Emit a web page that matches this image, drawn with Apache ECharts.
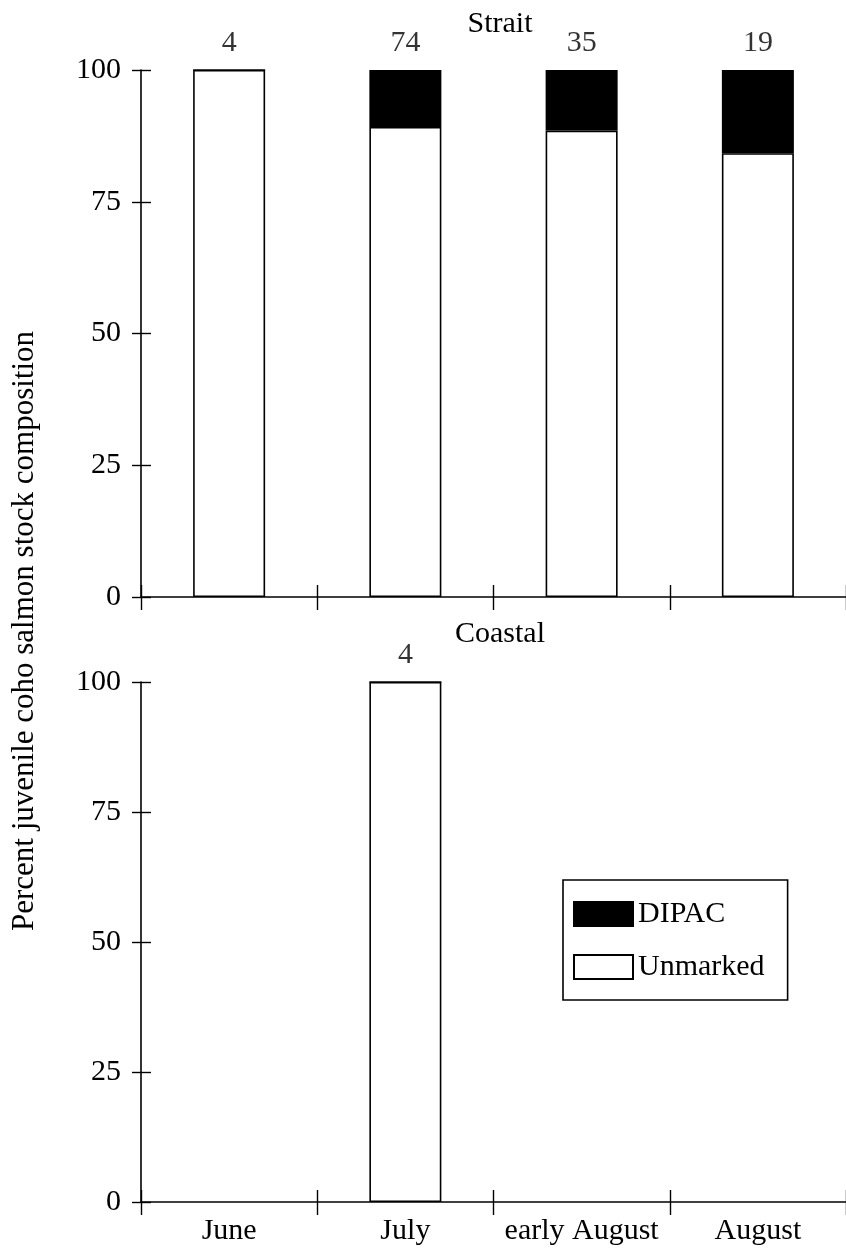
<!DOCTYPE html>
<html>
<head>
<meta charset="utf-8">
<script src="https://cdn.jsdelivr.net/npm/echarts@6/dist/echarts.min.js"></script>
<style>
html,body{margin:0;padding:0;background:#fff;}
#c{width:846px;height:1251px;}
</style>
</head>
<body>
<div id="c"></div>
<script>
// ---- data ----
const categories = ['June', 'July', 'early August', 'August'];
const yTicks = [0, 25, 50, 75, 100];
const straitUnmarked = [100, 89.2, 88.5, 84.2];
const straitDipac = [0, 10.8, 11.5, 15.8];
const straitN = [4, 74, 35, 19];
const coastalUnmarked = [null, 100, null, null];
const coastalDipac = [null, 0, null, null];
const coastalN = [null, 4, null, null];
const panelTitles = ['Strait', 'Coastal'];
const yLabel = 'Percent juvenile coho salmon stock composition';

const FONT = 'Liberation Serif, Times New Roman, serif';
const chart = echarts.init(document.getElementById('c'), null, {renderer: 'canvas'});

function totals(u, d) {
  return u.map((v, i) => (v == null ? null : v + (d[i] || 0)));
}

const grids = [
  {left: 141, width: 708, top: 70, height: 527},
  {left: 141, width: 708, top: 682, height: 520}
];

const xAxes = [], yAxes = [];
grids.forEach((g, gi) => {
  const showLabels = gi === 1;
  xAxes.push({
    type: 'category', gridIndex: gi, data: categories, position: 'bottom',
    axisLine: {lineStyle: {color: '#000', width: 1.6}},
    axisTick: {show: true, length: 13, lineStyle: {color: '#000', width: 1.4}},
    axisLabel: {show: showLabels, interval: 0, color: '#000', fontFamily: FONT, fontSize: 30, margin: 14},
    splitLine: {show: false}
  });
  xAxes.push({
    type: 'category', gridIndex: gi, data: categories, position: 'bottom',
    axisLine: {show: false},
    axisTick: {show: true, inside: true, length: 12, lineStyle: {color: '#000', width: 1.4}},
    axisLabel: {show: false}, splitLine: {show: false}
  });
  yAxes.push({
    type: 'value', gridIndex: gi, min: 0, max: 100, interval: 25, position: 'left',
    axisLine: {show: true, lineStyle: {color: '#000', width: 1.6}},
    axisTick: {show: true, length: 9, lineStyle: {color: '#000', width: 1.4}},
    axisLabel: {color: '#000', fontFamily: FONT, fontSize: 30, margin: 20,
      formatter: v => (yTicks.includes(v) ? String(v) : '')},
    splitLine: {show: false}
  });
  yAxes.push({
    type: 'value', gridIndex: gi, min: 0, max: 100, interval: 25, position: 'left',
    axisLine: {show: false},
    axisTick: {show: true, inside: true, length: 10, lineStyle: {color: '#000', width: 1.4}},
    axisLabel: {show: false}, splitLine: {show: false}
  });
});

const barCommon = {type: 'bar', barWidth: 72};
const unmarkedStyle = {color: '#fff', borderColor: '#000', borderWidth: 1.6};
const dipacStyle = {color: '#000', borderColor: '#000', borderWidth: 1.6};

function nLabelSeries(u, d, n, xi, yi) {
  return {
    type: 'scatter', xAxisIndex: xi, yAxisIndex: yi, symbolSize: 0.01, silent: true,
    data: totals(u, d),
    label: {show: true, position: 'top', distance: 12, color: '#000', fontFamily: FONT, fontSize: 30,
      formatter: p => (n[p.dataIndex] == null ? '' : String(n[p.dataIndex]))},
    z: 5
  };
}

const option = {
  backgroundColor: '#fff',
  animation: false,
  title: [
    {text: panelTitles[0], left: 495, top: 4, textAlign: 'center',
      textStyle: {fontFamily: FONT, fontSize: 30, fontWeight: 'normal', color: '#000'}},
    {text: panelTitles[1], left: 495, top: 614, textAlign: 'center',
      textStyle: {fontFamily: FONT, fontSize: 30, fontWeight: 'normal', color: '#000'}}
  ],
  legend: {
    data: ['DIPAC', 'Unmarked'], orient: 'vertical', left: 563, top: 880,
    icon: 'rect', itemWidth: 59, itemHeight: 24, itemGap: 23,
    borderColor: '#000', borderWidth: 1.6, padding: [19, 23, 18, 10],
    backgroundColor: '#fff',
    textStyle: {fontFamily: FONT, fontSize: 30, color: '#000', padding: [0, 0, 2, 0]},
    selectedMode: false
  },
  grid: grids,
  xAxis: xAxes,
  yAxis: yAxes,
  series: [
    Object.assign({}, barCommon, {name: 'Unmarked', stack: 's0', xAxisIndex: 0, yAxisIndex: 0,
      data: straitUnmarked, itemStyle: unmarkedStyle}),
    Object.assign({}, barCommon, {name: 'DIPAC', stack: 's0', xAxisIndex: 0, yAxisIndex: 0,
      data: straitDipac, itemStyle: dipacStyle}),
    Object.assign({}, barCommon, {name: 'Unmarked', stack: 's1', xAxisIndex: 2, yAxisIndex: 2,
      data: coastalUnmarked, itemStyle: unmarkedStyle}),
    Object.assign({}, barCommon, {name: 'DIPAC', stack: 's1', xAxisIndex: 2, yAxisIndex: 2,
      data: coastalDipac, itemStyle: dipacStyle}),
    nLabelSeries(straitUnmarked, straitDipac, straitN, 0, 0),
    nLabelSeries(coastalUnmarked, coastalDipac, coastalN, 2, 2)
  ],
  graphic: [
    {type: 'text', x: 25, y: 631, rotation: Math.PI / 2,
      style: {text: yLabel, font: '31px ' + FONT, fill: '#000', textAlign: 'center', textVerticalAlign: 'middle'}}
  ]
};
chart.setOption(option);
</script>
</body>
</html>
